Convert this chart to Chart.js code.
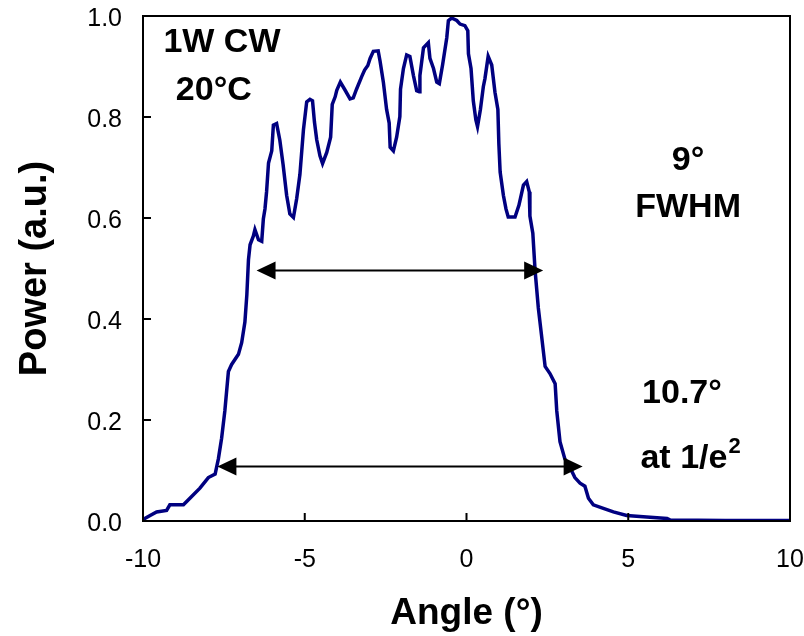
<!DOCTYPE html>
<html>
<head>
<meta charset="utf-8">
<script src="https://cdn.jsdelivr.net/npm/chart.js@4/dist/chart.umd.min.js"></script>
<style>
  body { margin: 0; background: #fff; }
  #wrap { width: 804px; height: 636px; }
</style>
</head>
<body>
<div id="wrap"><canvas id="beam-chart"></canvas></div>
<script>
// far-field profile
const angle = [-10.00, -9.78, -9.58, -9.27, -9.17, -8.75, -8.55, -8.24, -7.98, -7.77,
  -7.67, -7.57, -7.47, -7.36, -7.26, -7.05, -6.95, -6.85, -6.79, -6.74,
  -6.69, -6.59, -6.54, -6.43, -6.33, -6.28, -6.23, -6.18, -6.12, -6.02,
  -5.97, -5.87, -5.77, -5.67, -5.56, -5.46, -5.35, -5.25, -5.15, -5.04,
  -4.94, -4.84, -4.76, -4.70, -4.63, -4.53, -4.45, -4.32, -4.20, -4.15,
  -4.06, -4.01, -3.90, -3.76, -3.60, -3.50, -3.40, -3.24, -3.15, -3.05,
  -2.98, -2.88, -2.73, -2.67, -2.57, -2.47, -2.39, -2.36, -2.26, -2.16,
  -2.06, -2.04, -1.95, -1.85, -1.75, -1.64, -1.54, -1.46, -1.44, -1.33,
  -1.18, -1.13, -1.02, -0.92, -0.84, -0.74, -0.61, -0.56, -0.46, -0.30,
  -0.20, -0.05, 0.04, 0.06, 0.14, 0.21, 0.29, 0.34, 0.43, 0.52,
  0.57, 0.67, 0.78, 0.88, 0.97, 1.00, 1.04, 1.14, 1.22, 1.29,
  1.50, 1.62, 1.76, 1.86, 1.94, 1.96, 2.05, 2.12, 2.22, 2.32,
  2.43, 2.58, 2.74, 2.79, 2.89, 3.04, 3.20, 3.35, 3.51, 3.66,
  3.77, 3.92, 4.23, 4.54, 4.95, 5.57, 6.20, 6.30, 8.00, 10.00];
const power = [0.003, 0.011, 0.018, 0.021, 0.032, 0.032, 0.045, 0.065, 0.086, 0.093,
  0.123, 0.164, 0.218, 0.296, 0.310, 0.330, 0.353, 0.394, 0.448, 0.517,
  0.547, 0.564, 0.577, 0.557, 0.554, 0.598, 0.618, 0.652, 0.709, 0.733,
  0.784, 0.787, 0.754, 0.706, 0.645, 0.608, 0.601, 0.638, 0.686, 0.775,
  0.830, 0.835, 0.832, 0.790, 0.755, 0.723, 0.708, 0.730, 0.760, 0.825,
  0.840, 0.853, 0.869, 0.854, 0.836, 0.838, 0.855, 0.880, 0.893, 0.902,
  0.916, 0.930, 0.931, 0.910, 0.869, 0.815, 0.788, 0.740, 0.733, 0.760,
  0.801, 0.855, 0.896, 0.923, 0.920, 0.882, 0.852, 0.850, 0.882, 0.937,
  0.947, 0.916, 0.896, 0.869, 0.866, 0.903, 0.957, 0.991, 0.996, 0.991,
  0.984, 0.981, 0.971, 0.925, 0.896, 0.832, 0.794, 0.781, 0.815, 0.860,
  0.876, 0.920, 0.903, 0.849, 0.815, 0.747, 0.691, 0.645, 0.618, 0.602,
  0.602, 0.625, 0.665, 0.672, 0.652, 0.604, 0.570, 0.496, 0.422, 0.367,
  0.306, 0.292, 0.272, 0.218, 0.157, 0.123, 0.106, 0.086, 0.075, 0.069,
  0.045, 0.032, 0.025, 0.018, 0.011, 0.008, 0.005, 0.002, 0.001, 0.001];

const xTicks = [-10, -5, 0, 5, 10];
const yTicks = [0, 0.2, 0.4, 0.6, 0.8, 1.0];

// [from, to, level] of the two width arrows
const fwhmArrow = [-6.49, 2.37, 0.496];
const e2Arrow = [-7.70, 3.59, 0.108];

// [text, x, y] labels inside the plot
const notes = [
  ['1W CW', -7.56, 0.947],
  ['20°C', -7.81, 0.853],
  ['9°', 6.85, 0.713],
  ['FWHM', 6.85, 0.620],
  ['10.7°', 6.66, 0.253]
];
const e2Note = ['at 1/e', '2', 6.91, 0.123];

const FONT = 'Liberation Sans, Arial, Helvetica, sans-serif';

// box, inward ticks, arrows and notes
const extras = {
  id: 'extras',
  afterDraw(chart) {
    const { ctx, chartArea: a, scales: { x, y } } = chart;
    ctx.save();
    ctx.strokeStyle = '#000';
    ctx.lineWidth = 2;
    ctx.strokeRect(a.left, a.top, a.right - a.left, a.bottom - a.top);

    ctx.beginPath();
    xTicks.forEach(v => {
      const px = x.getPixelForValue(v);
      ctx.moveTo(px, a.bottom);
      ctx.lineTo(px, a.bottom - 8);
    });
    yTicks.forEach(v => {
      const py = y.getPixelForValue(v);
      ctx.moveTo(a.left, py);
      ctx.lineTo(a.left + 8, py);
    });
    ctx.stroke();

    function arrow(arr) {
      const x1 = x.getPixelForValue(arr[0]);
      const x2 = x.getPixelForValue(arr[1]);
      const py = y.getPixelForValue(arr[2]);
      ctx.beginPath();
      ctx.moveTo(x1 + 10, py);
      ctx.lineTo(x2 - 10, py);
      ctx.lineWidth = 2;
      ctx.stroke();
      ctx.beginPath();
      ctx.moveTo(x1, py);
      ctx.lineTo(x1 + 19, py - 9);
      ctx.lineTo(x1 + 19, py + 9);
      ctx.closePath();
      ctx.moveTo(x2, py);
      ctx.lineTo(x2 - 19, py - 9);
      ctx.lineTo(x2 - 19, py + 9);
      ctx.closePath();
      ctx.fillStyle = '#000';
      ctx.fill();
    }
    arrow(fwhmArrow);
    arrow(e2Arrow);

    ctx.fillStyle = '#000';
    ctx.textBaseline = 'middle';
    ctx.textAlign = 'center';
    ctx.font = 'bold 34px ' + FONT;
    notes.forEach(n => {
      ctx.fillText(n[0], x.getPixelForValue(n[1]), y.getPixelForValue(n[2]));
    });

    // "at 1/e" with a raised 2
    const w1 = ctx.measureText(e2Note[0]).width;
    ctx.font = 'bold 22px ' + FONT;
    const w2 = ctx.measureText(e2Note[1]).width;
    const cx = x.getPixelForValue(e2Note[2]);
    const cy = y.getPixelForValue(e2Note[3]);
    const left = cx - (w1 + w2) / 2;
    ctx.textAlign = 'left';
    ctx.font = 'bold 34px ' + FONT;
    ctx.fillText(e2Note[0], left, cy);
    ctx.font = 'bold 22px ' + FONT;
    ctx.fillText(e2Note[1], left + w1 + 1, cy - 12);
    ctx.restore();
  }
};

new Chart(document.querySelector('#beam-chart').getContext('2d'), {
  type: 'line',
  data: {
    datasets: [{
      data: angle.map((a, i) => ({ x: a, y: power[i] })),
      borderColor: '#000080',
      borderWidth: 3.5,
      pointRadius: 0,
      tension: 0,
      fill: false
    }]
  },
  options: {
    responsive: true,
    maintainAspectRatio: false,
    animation: false,
    layout: { padding: { top: 16, right: 14, left: 0, bottom: 0 } },
    plugins: { legend: { display: false }, tooltip: { enabled: false } },
    scales: {
      x: {
        type: 'linear',
        min: -10, max: 10,
        afterBuildTicks: s => { s.ticks = xTicks.map(v => ({ value: v })); },
        afterFit: s => { s.height = 115; s.paddingLeft = 0; s.paddingRight = 0; },
        grid: { display: false, drawTicks: false },
        border: { display: false },
        ticks: { color: '#000', padding: 24, font: { family: FONT, size: 25 }, maxRotation: 0 },
        title: { display: true, text: 'Angle (°)', color: '#000', padding: { top: 0, bottom: 0 },
                 font: { family: FONT, size: 37, weight: 'bold' } }
      },
      y: {
        min: 0, max: 1,
        afterBuildTicks: s => { s.ticks = yTicks.map(v => ({ value: v })); },
        afterFit: s => { s.width = 143; s.paddingTop = 0; s.paddingBottom = 0; },
        grid: { display: false, drawTicks: false },
        border: { display: false },
        ticks: { color: '#000', padding: 21, labelOffset: 3, font: { family: FONT, size: 25 },
                 callback: v => v.toFixed(1) },
        title: { display: true, text: 'Power (a.u.)', color: '#000', padding: { top: 13, bottom: 0 },
                 font: { family: FONT, size: 38, weight: 'bold' } }
      }
    }
  },
  plugins: [extras]
});
</script>
</body>
</html>
